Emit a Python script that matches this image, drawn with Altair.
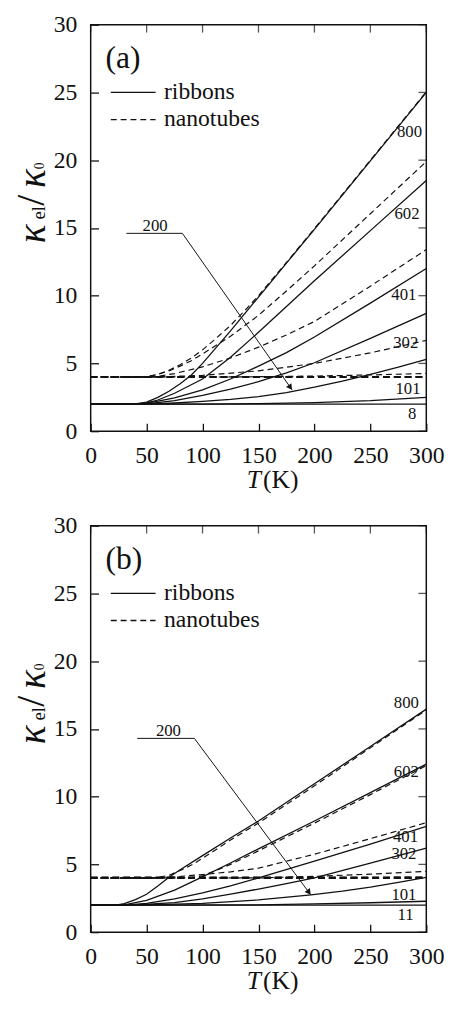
import math
import altair as alt
import pandas as pd

FONT = "Times New Roman, Liberation Serif, Tinos, DejaVu Serif, serif"
INK = "#111111"
W = 341
H = 413

T_TICKS = [0, 50, 100, 150, 200, 250, 300]
V_TICKS = [0, 5, 10, 15, 20, 25, 30]

# ---------------- panel (a): ribbons (solid) ----------------
a_r800_T = [0, 40, 50, 60, 70, 80, 90, 100, 125, 150, 175, 200, 250, 300]
a_r800_v = [2.0, 2.02, 2.15, 2.5, 2.95, 3.5, 4.15, 5.0, 7.4, 9.9, 12.4, 14.9, 19.95, 25.0]
a_r602_T = [0, 40, 50, 60, 75, 100, 125, 150, 175, 200, 250, 300]
a_r602_v = [2.0, 2.0, 2.08, 2.3, 2.8, 3.85, 5.45, 7.3, 9.2, 11.1, 14.8, 18.5]
a_r401_T = [0, 40, 50, 75, 100, 125, 150, 175, 200, 250, 300]
a_r401_v = [2.0, 2.0, 2.05, 2.45, 3.05, 3.85, 4.8, 5.8, 6.95, 9.45, 12.0]
a_r302_T = [0, 40, 50, 75, 100, 125, 150, 175, 200, 250, 300]
a_r302_v = [2.0, 2.0, 2.02, 2.25, 2.65, 3.1, 3.65, 4.3, 5.05, 6.85, 8.7]
a_r200_T = [0, 50, 75, 100, 125, 150, 175, 200, 225, 250, 275, 300]
a_r200_v = [2.0, 2.0, 2.08, 2.2, 2.35, 2.55, 2.85, 3.25, 3.7, 4.2, 4.72, 5.3]
a_r101_T = [0, 100, 150, 200, 250, 300]
a_r101_v = [2.0, 2.0, 2.03, 2.1, 2.25, 2.5]
a_r8_T = [0, 300]
a_r8_v = [2.0, 2.0]

# ---------------- panel (a): nanotubes (dashed) ----------------
a_n800_T = [0, 45, 50, 60, 70, 80, 90, 100, 110, 125, 140, 150, 175, 200, 250, 300]
a_n800_v = [4.0, 4.0, 4.02, 4.2, 4.5, 4.9, 5.4, 6.0, 6.7, 7.8, 9.1, 10.0, 12.45, 14.95, 20.0, 25.05]
a_n602_T = [0, 45, 50, 60, 70, 80, 90, 100, 125, 150, 175, 200, 250, 300]
a_n602_v = [4.0, 4.0, 4.02, 4.18, 4.45, 4.8, 5.2, 5.7, 7.0, 8.55, 10.35, 12.2, 16.05, 19.9]
a_n401_T = [0, 50, 60, 75, 100, 125, 150, 175, 200, 250, 300]
a_n401_v = [4.0, 4.0, 4.05, 4.25, 4.75, 5.4, 6.2, 7.1, 8.1, 10.7, 13.4]
a_n302_T = [0, 60, 100, 150, 200, 250, 300]
a_n302_v = [4.0, 4.0, 4.12, 4.45, 5.0, 5.78, 6.7]
a_n200_T = [0, 120, 150, 200, 250, 300]
a_n200_v = [4.0, 4.0, 4.02, 4.07, 4.15, 4.26]
a_n101_T = [0, 300]
a_n101_v = [4.0, 4.0]
a_n8_T = [0, 300]
a_n8_v = [4.0, 4.0]

# ---------------- panel (b): ribbons (solid) ----------------
b_r800_T = [0, 25, 30, 40, 50, 60, 70, 80, 100, 125, 150, 200, 250, 300]
b_r800_v = [2.0, 2.03, 2.1, 2.4, 2.8, 3.4, 4.05, 4.6, 5.65, 6.95, 8.2, 10.95, 13.7, 16.46]
b_r602_T = [0, 30, 50, 75, 98, 125, 150, 200, 250, 300]
b_r602_v = [2.0, 2.02, 2.35, 3.1, 4.0, 5.1, 6.15, 8.2, 10.3, 12.4]
b_r401_T = [0, 30, 50, 75, 100, 125, 150, 200, 250, 300]
b_r401_v = [2.0, 2.0, 2.12, 2.45, 2.9, 3.42, 4.0, 5.25, 6.5, 7.8]
b_r302_T = [0, 40, 75, 100, 125, 150, 175, 200, 250, 300]
b_r302_v = [2.0, 2.01, 2.18, 2.45, 2.8, 3.18, 3.58, 4.0, 5.1, 6.2]
b_r200_T = [0, 50, 100, 150, 197, 225, 250, 275, 300]
b_r200_v = [2.0, 2.01, 2.13, 2.38, 2.75, 3.02, 3.32, 3.67, 4.05]
b_r101_T = [0, 150, 200, 250, 300]
b_r101_v = [2.0, 2.02, 2.08, 2.17, 2.28]
b_r11_T = [0, 300]
b_r11_v = [2.0, 2.0]

# ---------------- panel (b): nanotubes (dashed) ----------------
b_n800_T = [0, 55, 60, 70, 80, 90, 100, 125, 150, 200, 250, 300]
b_n800_v = [4.0, 4.0, 4.03, 4.2, 4.55, 4.95, 5.45, 6.8, 8.05, 10.8, 13.6, 16.4]
b_n602_T = [0, 80, 90, 100, 125, 150, 200, 250, 300]
b_n602_v = [4.0, 4.0, 4.03, 4.15, 5.0, 6.0, 8.05, 10.15, 12.3]
b_n401_T = [0, 60, 75, 100, 125, 150, 200, 250, 300]
b_n401_v = [4.0, 4.0, 4.08, 4.25, 4.45, 4.72, 5.75, 6.9, 8.08]
b_n302_T = [0, 150, 200, 250, 300]
b_n302_v = [4.0, 4.0, 4.12, 4.28, 4.49]
b_n200_T = [0, 300]
b_n200_v = [4.0, 4.02]
b_n101_T = [0, 300]
b_n101_v = [4.0, 4.0]
b_n11_T = [0, 300]
b_n11_v = [4.0, 4.0]

# ---------------- curve labels ----------------
a_lab_text = ["800", "602", "401", "302", "101", "8"]
a_lab_T = [285.0, 282.7, 279.9, 281.6, 283.6, 287.4]
a_lab_v = [22.05, 16.0, 10.04, 6.47, 3.09, 1.25]
b_lab_text = ["800", "602", "401", "302", "101", "11"]
b_lab_T = [282.2, 282.2, 281.4, 280.0, 280.0, 281.4]
b_lab_v = [16.9, 11.84, 7.0, 5.73, 2.76, 1.25]

# "200" leader with arrow
a_lead_T = [32.0, 82.0, 180.0]
a_lead_v = [14.6, 14.6, 3.05]
a_200_T, a_200_v = 57.6, 15.1
b_lead_T = [41.6, 92.7, 196.7]
b_lead_v = [14.3, 14.3, 2.76]
b_200_T, b_200_v = 69.5, 14.86

# legend
leg_T = [18.0, 58.0]
leg_v = [25.0, 23.0]
leg_text = ["ribbons", "nanotubes"]
leg_text_T = 65.5
leg_text_v = [24.5, 22.5]


def line_df(items):
    rows = []
    for name, Ts, vs in items:
        for i, (t, v) in enumerate(zip(Ts, vs)):
            rows.append({"label": name, "T": t, "v": v, "i": i})
    return pd.DataFrame(rows)


def make_panel(tag, rib_items, nano_items, flat_names, lab_text, lab_T, lab_v,
               lead_T, lead_v, l200_T, l200_v):
    xs = alt.Scale(domain=[0, 300], nice=False, zero=False)
    ys = alt.Scale(domain=[0, 30], nice=False, zero=False)
    common = dict(domain=False, grid=False, ticks=True, tickSize=8, tickColor=INK,
                  tickWidth=1.3, offset=-8, title=None, labelFont=FONT,
                  labelFontSize=24, labelColor=INK, labelOverlap=False, labelFlush=False,
                  format="d")
    x_bot = alt.Axis(orient="bottom", values=T_TICKS, labelPadding=13, **common)
    y_left = alt.Axis(orient="left", values=V_TICKS, labelPadding=14, **common)

    def X(ax=None):
        return alt.X("T:Q", scale=xs, axis=ax) if ax is not None else alt.X("T:Q", scale=xs)

    def Y(ax=None):
        return alt.Y("v:Q", scale=ys, axis=ax) if ax is not None else alt.Y("v:Q", scale=ys)

    rib = line_df(rib_items)
    nano = line_df([it for it in nano_items if it[0] not in flat_names])
    flat = line_df([it for it in nano_items if it[0] in flat_names])

    solid = alt.Chart(rib).mark_line(color=INK, strokeWidth=1.3).encode(
        x=X(x_bot), y=Y(y_left), detail="label:N", order="i:Q")
    dashed = alt.Chart(nano).mark_line(color=INK, strokeWidth=1.2, strokeDash=[6, 4]).encode(
        x=X(), y=Y(), detail="label:N", order="i:Q")
    flat_l = alt.Chart(flat).mark_line(color=INK, strokeWidth=2.2, strokeDash=[7, 4]).encode(
        x=X(), y=Y(), detail="label:N", order="i:Q")

    # inward ticks on the top and right edges
    top_t = alt.Chart(pd.DataFrame({"T": T_TICKS})).mark_tick(
        color=INK, thickness=1.3, size=8, orient="vertical").encode(x=X(), y=alt.value(4))
    right_t = alt.Chart(pd.DataFrame({"v": V_TICKS})).mark_tick(
        color=INK, thickness=1.3, size=8, orient="horizontal").encode(y=Y(), x=alt.value(W - 4))

    labs = pd.DataFrame({"t": lab_text, "T": lab_T, "v": lab_v})
    lab_l = alt.Chart(labs).mark_text(font=FONT, fontSize=17, color=INK,
                                      align="center", baseline="middle").encode(
        x=X(), y=Y(), text="t:N")

    lead = pd.DataFrame({"T": lead_T, "v": lead_v, "i": list(range(len(lead_T)))})
    lead_l = alt.Chart(lead).mark_line(color=INK, strokeWidth=1.0).encode(
        x=X(), y=Y(), order="i:Q")
    dx = (lead_T[2] - lead_T[1]) * W / 300.0
    dy = (lead_v[1] - lead_v[2]) * H / 30.0
    ang = math.degrees(math.atan2(dx, -dy))
    back = 4.0 / math.hypot(dx, dy)
    head = pd.DataFrame({"T": [lead_T[2] - back * (lead_T[2] - lead_T[1])],
                         "v": [lead_v[2] - back * (lead_v[2] - lead_v[1])]})
    head_l = alt.Chart(head).mark_point(shape="triangle", filled=True, size=45,
                                        color=INK, opacity=1, angle=ang).encode(x=X(), y=Y())
    t200 = pd.DataFrame({"t": ["200"], "T": [l200_T], "v": [l200_v]})
    t200_l = alt.Chart(t200).mark_text(font=FONT, fontSize=17, color=INK,
                                       align="center", baseline="middle").encode(
        x=X(), y=Y(), text="t:N")

    legs = pd.DataFrame({"T": [leg_T[0]], "T2": [leg_T[1]], "v": [leg_v[0]]})
    legd = pd.DataFrame({"T": [leg_T[0]], "T2": [leg_T[1]], "v": [leg_v[1]]})
    leg_s = alt.Chart(legs).mark_rule(color=INK, strokeWidth=1.3).encode(
        x=X(), x2="T2:Q", y=Y())
    leg_d = alt.Chart(legd).mark_rule(color=INK, strokeWidth=1.3, strokeDash=[6, 4]).encode(
        x=X(), x2="T2:Q", y=Y())
    legt = pd.DataFrame({"t": leg_text, "T": [leg_text_T] * 2, "v": leg_text_v})
    leg_t = alt.Chart(legt).mark_text(font=FONT, fontSize=24, color=INK, align="left",
                                      baseline="alphabetic").encode(x=X(), y=Y(), text="t:N")

    def txt(s, x, y, size, italic=False, angle=0, align="left"):
        return alt.Chart(pd.DataFrame({"t": [s]})).mark_text(
            font=FONT, fontSize=size, color=INK, align=align, baseline="alphabetic",
            fontStyle="italic" if italic else "normal", angle=angle).encode(
            text="t:N", x=alt.value(x), y=alt.value(y))

    tag_l = txt(tag, 15, 44, 32)
    yt = [
        txt("κ", -46, 222, 40, italic=True, angle=270),
        txt("el", -46, 198, 19, angle=270),
        txt("/", -47, 184, 40, angle=270),
        txt("κ", -46, 166, 40, italic=True, angle=270),
        txt("0", -47, 147, 14, angle=270),
    ]
    xt = [
        txt("T", 173, H + 58, 26, italic=True, align="right"),
        txt("(K)", 175, H + 58, 26, align="left"),
    ]

    return alt.layer(solid, dashed, flat_l, top_t, right_t, lab_l, lead_l, head_l, t200_l,
                     leg_s, leg_d, leg_t, tag_l, *yt, *xt).properties(width=W, height=H)


panel_a = make_panel(
    "(a)",
    [("800", a_r800_T, a_r800_v), ("602", a_r602_T, a_r602_v), ("401", a_r401_T, a_r401_v),
     ("302", a_r302_T, a_r302_v), ("200", a_r200_T, a_r200_v), ("101", a_r101_T, a_r101_v),
     ("8", a_r8_T, a_r8_v)],
    [("800", a_n800_T, a_n800_v), ("602", a_n602_T, a_n602_v), ("401", a_n401_T, a_n401_v),
     ("302", a_n302_T, a_n302_v), ("200", a_n200_T, a_n200_v), ("101", a_n101_T, a_n101_v),
     ("8", a_n8_T, a_n8_v)],
    ["101", "8"],
    a_lab_text, a_lab_T, a_lab_v, a_lead_T, a_lead_v, a_200_T, a_200_v)

panel_b = make_panel(
    "(b)",
    [("800", b_r800_T, b_r800_v), ("602", b_r602_T, b_r602_v), ("401", b_r401_T, b_r401_v),
     ("302", b_r302_T, b_r302_v), ("200", b_r200_T, b_r200_v), ("101", b_r101_T, b_r101_v),
     ("11", b_r11_T, b_r11_v)],
    [("800", b_n800_T, b_n800_v), ("602", b_n602_T, b_n602_v), ("401", b_n401_T, b_n401_v),
     ("302", b_n302_T, b_n302_v), ("200", b_n200_T, b_n200_v), ("101", b_n101_T, b_n101_v),
     ("11", b_n11_T, b_n11_v)],
    ["200", "101", "11"],
    b_lab_text, b_lab_T, b_lab_v, b_lead_T, b_lead_v, b_200_T, b_200_v)

chart = alt.vconcat(panel_a, panel_b, spacing=19).properties(
    padding={"left": 4, "top": -4, "right": 0, "bottom": -2},
    background="white",
).configure_view(stroke=INK, strokeWidth=1.5).configure_axis(labelFont=FONT)

chart.save("out.html", embed_options={"renderer": "svg", "actions": False})
